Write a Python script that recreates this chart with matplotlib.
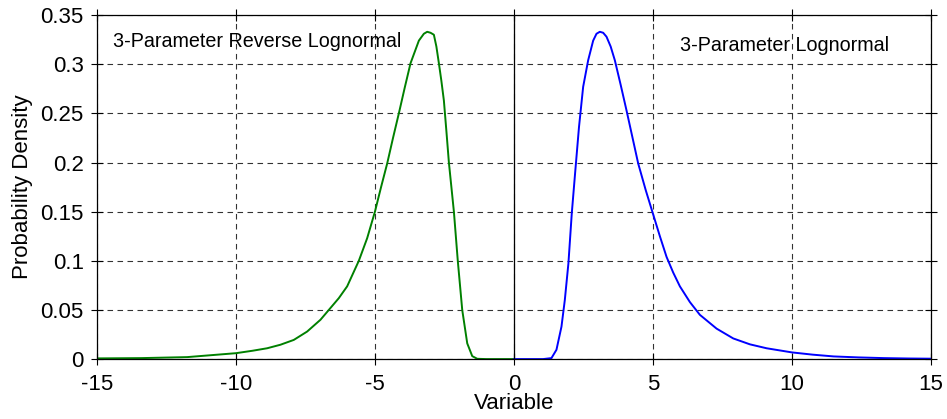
import numpy as np
import matplotlib
matplotlib.use('Agg')
from matplotlib import pyplot as plt

plt.rcParams['font.family'] = ['Liberation Sans', 'DejaVu Sans']

# points, right curve (3-parameter lognormal)
x_logn = [0.0, 1.05, 1.35, 1.53, 1.71, 1.83, 1.96, 2.08, 2.20, 2.34, 2.49, 2.67,
          2.85, 2.97, 3.09, 3.21, 3.33, 3.48, 3.63, 3.84, 4.05, 4.26, 4.47, 4.74,
          5.0, 5.25, 5.49, 5.73, 5.97, 6.33, 6.69, 7.29, 7.89, 8.49, 9.09, 10.0,
          10.75, 11.5, 12.4, 13.3, 14.2, 15.0]
y_logn = [0.0, 0.0, 0.001, 0.0095, 0.033, 0.060, 0.0975, 0.148, 0.189, 0.236, 0.277, 0.304,
          0.324, 0.331, 0.333, 0.332, 0.328, 0.318, 0.304, 0.279, 0.253, 0.226, 0.199, 0.172,
          0.148, 0.125, 0.104, 0.088, 0.074, 0.058, 0.045, 0.031, 0.021, 0.015, 0.011, 0.0068,
          0.0045, 0.0027, 0.0017, 0.001, 0.0006, 0.0004]

# left curve (3-parameter reverse lognormal)
x_rev = [-15.0, -13.4, -11.76, -10.0, -9.4, -8.88, -8.4, -7.92, -7.44, -6.96, -6.66,
         -6.3, -6.0, -5.58, -5.28, -5.0, -4.78, -4.56, -4.35, -4.14, -3.93, -3.72,
         -3.42, -3.24, -3.12, -3.0, -2.88, -2.79, -2.70, -2.61, -2.52, -2.43, -2.34,
         -2.16, -2.02, -1.86, -1.68, -1.50, -1.32, -1.0, 0.0]
y_rev = [0.0007, 0.001, 0.002, 0.006, 0.0085, 0.011, 0.0146, 0.0195, 0.028, 0.040, 0.050,
         0.062, 0.074, 0.100, 0.123, 0.150, 0.175, 0.199, 0.225, 0.250, 0.276, 0.301,
         0.324, 0.331, 0.333, 0.332, 0.330, 0.318, 0.301, 0.283, 0.263, 0.232, 0.200,
         0.150, 0.100, 0.050, 0.016, 0.003, 0.0003, 0.0, 0.0]

xticks = [-15, -10, -5, 0, 5, 10, 15]
yticks = [0, 0.05, 0.1, 0.15, 0.2, 0.25, 0.3, 0.35]
ylabels = ['0', '0.05', '0.1', '0.15', '0.2', '0.25', '0.3', '0.35']

fig = plt.figure(figsize=(9.47, 4.19), dpi=100)
ax = fig.add_axes([0.1024, 0.143, 0.8806, 0.821])

ax.plot(x_rev, y_rev, color='#008000', lw=1.4)
ax.plot(x_logn, y_logn, color='#0000ff', lw=1.4)
ax.axvline(0, color='black', lw=0.9)

ax.set_xlim(-15, 15)
ax.set_ylim(0, 0.35)
ax.set_xticks(xticks)
ax.set_xticklabels([str(t) for t in xticks])
ax.set_yticks(yticks)
ax.set_yticklabels(ylabels)
ax.grid(True, color='black', linestyle=(0, (5, 4)), lw=0.8, alpha=0.8)
ax.tick_params(labelsize=16, direction='inout', length=9, top=True, right=True)
ax.tick_params(axis='x', pad=6)
ax.tick_params(axis='y', pad=5)
for s in ax.spines.values():
    s.set_linewidth(0.9)

ax.set_xlabel('Variable', fontsize=16, labelpad=-1)
ax.set_ylabel('Probability Density', fontsize=16, labelpad=5)

ax.text(-14.42, 0.3235, '3-Parameter Reverse Lognormal', fontsize=14.2, va='center')
ax.text(5.97, 0.319, '3-Parameter Lognormal', fontsize=14.2, va='center')

fig.savefig('out.png', dpi=100)
